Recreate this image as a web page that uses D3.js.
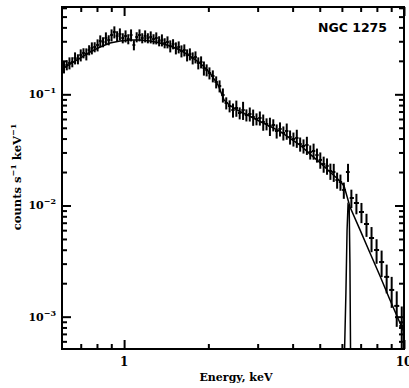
<!DOCTYPE html>
<html>
<head>
<meta charset="utf-8">
<script src="https://cdn.jsdelivr.net/npm/d3@7"></script>
<style>
  body { margin: 0; background: #fff; }
  svg { display: block; }
  .lbl { font-family: "DejaVu Serif", serif; font-weight: bold; fill: #000; }
</style>
</head>
<body>
<div id="chart"></div>
<script>
// spectrum: bin centre (keV), rate (counts/s/keV), 1-sigma error
var energyKeV = [0.610, 0.624, 0.638, 0.653, 0.668, 0.684, 0.700, 0.716, 0.733, 0.750,
  0.767, 0.785, 0.804, 0.822, 0.841, 0.861, 0.881, 0.902, 0.923, 0.944,
  0.966, 0.989, 1.012, 1.035, 1.059, 1.084, 1.109, 1.135, 1.161, 1.189,
  1.216, 1.245, 1.274, 1.303, 1.334, 1.365, 1.396, 1.429, 1.462, 1.496,
  1.531, 1.567, 1.603, 1.641, 1.679, 1.718, 1.758, 1.799, 1.841, 1.884,
  1.928, 1.972,
  2.018, 2.075, 2.133, 2.193, 2.254, 2.317, 2.382, 2.449, 2.518, 2.588,
  2.661, 2.735, 2.812, 2.891, 2.972, 3.055, 3.141, 3.228, 3.319, 3.412,
  3.508, 3.606, 3.707, 3.811, 3.917, 4.027, 4.140, 4.256, 4.375, 4.498,
  4.624, 4.753, 4.887, 5.023, 5.164, 5.309, 5.458, 5.610, 5.768, 5.929,
  6.095, 6.310, 6.486, 6.761, 7.047, 7.345, 7.656, 7.980, 8.318, 8.670,
  9.036, 9.419, 9.817];
var countRate = [0.1759, 0.1834, 0.1912, 0.1952, 0.2120, 0.2076, 0.2256, 0.2351, 0.2303, 0.2502,
  0.2608, 0.2663, 0.2775, 0.3015, 0.2954, 0.3208, 0.3078, 0.3413, 0.3634, 0.3344,
  0.3485, 0.3208, 0.3344, 0.3143, 0.3413, 0.2775, 0.3275, 0.3413, 0.3208, 0.3344,
  0.3208, 0.3275, 0.3143, 0.3208, 0.3015, 0.3078, 0.2893, 0.2954, 0.2719, 0.2834,
  0.2608, 0.2663, 0.2451, 0.2502, 0.2256, 0.2303, 0.2120, 0.2164, 0.1912, 0.1952,
  0.1723, 0.1654,
  0.1554, 0.1461, 0.1290, 0.1187, 0.0986, 0.0835, 0.0785, 0.0722, 0.0753, 0.0679,
  0.0722, 0.0651, 0.0665, 0.0625, 0.0600, 0.0612, 0.0564, 0.0541, 0.0519, 0.0530,
  0.0468, 0.0488, 0.0449, 0.0468, 0.0413, 0.0396, 0.0405, 0.0357, 0.0343, 0.0350,
  0.0303, 0.0309, 0.0284, 0.0257, 0.0236, 0.0227, 0.0204, 0.0200, 0.01696, 0.01627,
  0.01378, 0.0200, 0.01168, 0.01053, 0.00874, 0.00682, 0.00510, 0.00398, 0.00310, 0.00228,
  0.00174, 0.00125, 0.000825];
var countErr = [0.0218, 0.0191, 0.0237, 0.0203, 0.0263, 0.0216, 0.0280, 0.0245, 0.0286, 0.0260,
  0.0323, 0.0277, 0.0344, 0.0374, 0.0307, 0.0398, 0.0320, 0.0423, 0.0451, 0.0348,
  0.0432, 0.0334, 0.0415, 0.0327, 0.0423, 0.0289, 0.0341, 0.0423, 0.0334, 0.0415,
  0.0334, 0.0406, 0.0327, 0.0398, 0.0314, 0.0382, 0.0301, 0.0366, 0.0337, 0.0295,
  0.0323, 0.0330, 0.0304, 0.0310, 0.0280, 0.0286, 0.0263, 0.0268, 0.0237, 0.0242,
  0.0250, 0.0205,
  0.0193, 0.0181, 0.0160, 0.0147, 0.0143, 0.0104, 0.0097, 0.0105, 0.0125, 0.0084,
  0.0134, 0.0081, 0.0096, 0.0104, 0.0074, 0.0089, 0.0094, 0.0067, 0.0097, 0.0066,
  0.0068, 0.0071, 0.0065, 0.0078, 0.0060, 0.0057, 0.0075, 0.0052, 0.0050, 0.0065,
  0.0044, 0.0051, 0.0041, 0.0043, 0.0039, 0.0038, 0.0034, 0.0037, 0.0028, 0.0027,
  0.0023, 0.0037, 0.0022, 0.0022, 0.0018, 0.0016, 0.0013, 0.00099, 0.00083, 0.00066,
  0.00054, 0.00044, 0.00041];

// folded model
var modelEnergy = [0.600, 0.641, 0.696, 0.756, 0.821, 0.891, 0.968, 1.050, 1.141, 1.238,
  1.345, 1.460, 1.585, 1.721, 1.868, 2.028, 2.167, 2.276, 2.391, 2.596,
  2.818, 3.059, 3.322, 3.607, 3.916, 4.252, 4.616, 5.012, 5.441, 5.907,
  6.105, 6.414, 6.965, 7.561, 8.210, 8.913, 9.676, 10.0];
var modelRate = [0.1689, 0.1873, 0.2120, 0.2401, 0.2663, 0.2892, 0.3015, 0.3078, 0.3078, 0.3015,
  0.2892, 0.2718, 0.2502, 0.2210, 0.1912, 0.1554, 0.1213, 0.0889, 0.0790, 0.0700,
  0.0635, 0.0570, 0.0515, 0.0465, 0.0402, 0.0350, 0.0290, 0.0243, 0.0200, 0.0166,
  0.0150, 0.00969, 0.00603, 0.00374, 0.00232, 0.00141, 0.000877, 0.00073];

// Fe K line component
var lineEnergy = [6.12, 6.20, 6.26, 6.31, 6.37, 6.41, 6.45];
var lineRate = [0.0004, 0.0016, 0.0060, 0.0102, 0.0098, 0.0030, 0.0003];

var xMajorTicks = [1, 10];
var xMinorTicks = [0.7, 0.8, 0.9, 2, 3, 4, 5, 6, 7, 8, 9];
var yMajorTicks = [1e-3, 1e-2, 1e-1];
var yMinorTicks = [6e-4, 7e-4, 8e-4, 9e-4, 2e-3, 3e-3, 4e-3, 5e-3, 6e-3, 7e-3, 8e-3, 9e-3,
  2e-2, 3e-2, 4e-2, 5e-2, 6e-2, 7e-2, 8e-2, 9e-2, 2e-1, 3e-1, 4e-1, 5e-1, 6e-1];
var yTickExp = ['−3', '−2', '−1'];
var title = 'NGC 1275';

var w = 409, h = 388;
var padL = 62, padR = 404, padT = 7, padB = 349;  // plot frame edges
var svg = d3.select('#chart').append('svg').attr('width', w).attr('height', h);

var xScale = d3.scaleLog().domain([0.6, 10]).range([padL, padR]);
var yScale = d3.scaleLog().domain([5.12e-4, 0.61]).range([padB, padT]);

svg.append('clipPath').attr('id', 'plotclip')
  .append('rect').attr('x', padL).attr('y', padT).attr('width', padR - padL).attr('height', padB - padT);

var plot = svg.append('g').attr('clip-path', 'url(#plotclip)');

// data points: vertical error bars and bin widths
var points = energyKeV.map(function(e, i){
  var lo = i > 0 ? Math.sqrt(energyKeV[i-1] * e) : e * e / Math.sqrt(e * energyKeV[i+1]);
  var hi = i < energyKeV.length - 1 ? Math.sqrt(energyKeV[i+1] * e) : e * e / Math.sqrt(e * energyKeV[i-1]);
  return {e: e, lo: lo, hi: hi, v: countRate[i], err: countErr[i]};
});

plot.selectAll('line.ey').data(points).enter().append('line')
  .attr('class', 'ey')
  .attr('x1', function(d){ return xScale(d.e); })
  .attr('x2', function(d){ return xScale(d.e); })
  .attr('y1', function(d){ return yScale(Math.max(d.v - d.err, 1e-5)); })
  .attr('y2', function(d){ return yScale(d.v + d.err); })
  .attr('stroke', '#000').attr('stroke-width', 2);

plot.selectAll('line.ex').data(points).enter().append('line')
  .attr('class', 'ex')
  .attr('x1', function(d){ return xScale(d.lo); })
  .attr('x2', function(d){ return xScale(d.hi); })
  .attr('y1', function(d){ return yScale(d.v); })
  .attr('y2', function(d){ return yScale(d.v); })
  .attr('stroke', '#000').attr('stroke-width', 2);

// model curve
var modelLine = d3.line()
  .x(function(d, i){ return xScale(modelEnergy[i]); })
  .y(function(d){ return yScale(d); });
plot.append('path').datum(modelRate)
  .attr('d', modelLine)
  .attr('fill', 'none').attr('stroke', '#000').attr('stroke-width', 1.5);

// Fe line
var feLine = d3.line()
  .x(function(d, i){ return xScale(lineEnergy[i]); })
  .y(function(d){ return yScale(d); });
plot.append('path').datum(lineRate)
  .attr('d', feLine)
  .attr('fill', 'none').attr('stroke', '#000').attr('stroke-width', 1.5);

// frame
svg.append('rect').attr('x', padL).attr('y', padT).attr('width', padR - padL).attr('height', padB - padT)
  .attr('fill', 'none').attr('stroke', '#000').attr('stroke-width', 2);

// ticks (all pointing inward, on all four sides)
function ticks(axis, vals, size, tr){
  svg.append('g').attr('transform', tr)
    .call(axis.tickValues(vals).tickSize(size).tickSizeOuter(0).tickFormat(''))
    .call(function(g){
      g.select('.domain').remove();
      g.selectAll('.tick line').attr('stroke', '#000').attr('stroke-width', 2);
    });
}
ticks(d3.axisBottom(xScale), xMajorTicks, -9, 'translate(0,' + padB + ')');
ticks(d3.axisBottom(xScale), xMinorTicks, -5, 'translate(0,' + padB + ')');
ticks(d3.axisTop(xScale), xMajorTicks, -9, 'translate(0,' + padT + ')');
ticks(d3.axisTop(xScale), xMinorTicks, -5, 'translate(0,' + padT + ')');
ticks(d3.axisLeft(yScale), yMajorTicks, -9, 'translate(' + padL + ',0)');
ticks(d3.axisLeft(yScale), yMinorTicks, -5, 'translate(' + padL + ',0)');
ticks(d3.axisRight(yScale), yMajorTicks, -9, 'translate(' + padR + ',0)');
ticks(d3.axisRight(yScale), yMinorTicks, -5, 'translate(' + padR + ',0)');

// tick labels
svg.selectAll('text.xt').data(xMajorTicks).enter().append('text')
  .attr('class', 'lbl xt')
  .attr('x', function(d){ return xScale(d); })
  .attr('y', 366)
  .attr('text-anchor', 'middle')
  .attr('font-size', 12)
  .text(function(d){ return d; });

var yt = svg.selectAll('text.yt').data(yMajorTicks).enter().append('text')
  .attr('class', 'lbl yt')
  .attr('x', 56)
  .attr('y', function(d){ return yScale(d) + 4; })
  .attr('text-anchor', 'end')
  .attr('font-size', 11);
yt.append('tspan').text('10');
yt.append('tspan').attr('dy', -5).attr('font-size', 8).text(function(d, i){ return yTickExp[i]; });

// axis titles
svg.append('text').attr('class', 'lbl')
  .attr('x', 236).attr('y', 381)
  .attr('text-anchor', 'middle').attr('font-size', 11)
  .text('Energy, keV');

var yl = svg.append('text').attr('class', 'lbl')
  .attr('transform', 'translate(21,177) rotate(-90)')
  .attr('text-anchor', 'middle').attr('font-size', 11.5);
yl.append('tspan').text('counts s');
yl.append('tspan').attr('dy', -5).attr('font-size', 8).text('−1');
yl.append('tspan').attr('dy', 5).text(' keV');
yl.append('tspan').attr('dy', -5).attr('font-size', 8).text('−1');

svg.append('text').attr('class', 'lbl')
  .attr('x', 387).attr('y', 32)
  .attr('text-anchor', 'end').attr('font-size', 12.5)
  .style('font-family', '"DejaVu Sans", sans-serif')
  .text(title);
</script>
</body>
</html>
